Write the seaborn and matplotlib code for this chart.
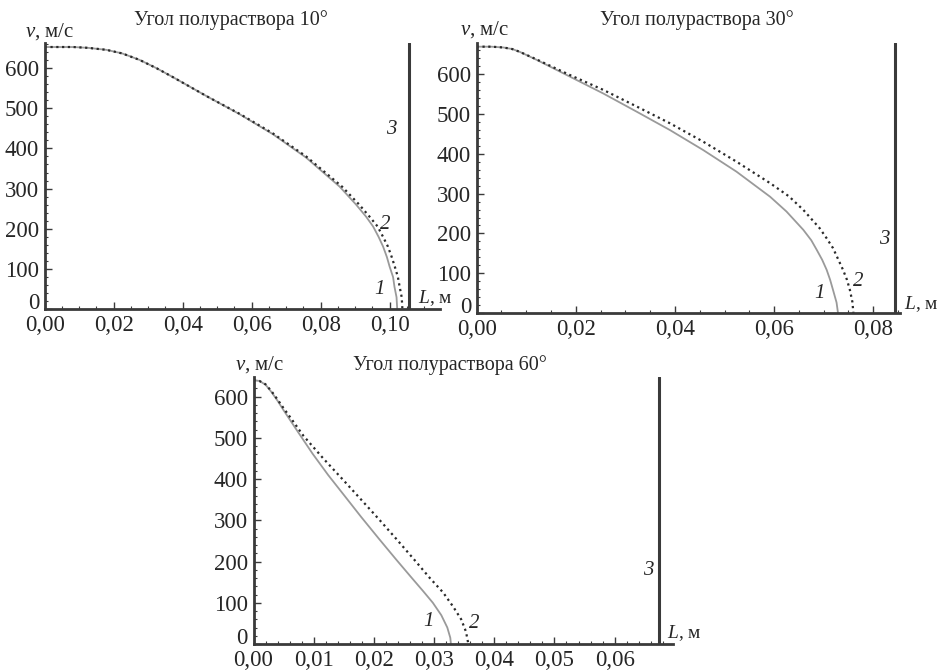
import numpy as np
import pandas as pd
import matplotlib.pyplot as plt
import seaborn as sns
from matplotlib.ticker import MultipleLocator, FuncFormatter

# panel 1: half-angle 10 deg
L1_a = [0, 0.0082, 0.0125, 0.0179, 0.0225, 0.0275, 0.0325, 0.0372, 0.0469, 0.0565, 0.0662, 0.0758, 0.0855,
        0.0903, 0.0932, 0.0952, 0.0968, 0.0981, 0.0992, 0.1000, 0.1010, 0.1014, 0.1020, 0.1022]
v1_a = [652, 652, 650, 645, 636, 620, 599, 577, 530, 485, 435, 377, 305,
        260, 230, 206, 180, 156, 130, 106, 80, 56, 30, 0]
L1_b = [0, 0.0082, 0.0125, 0.0179, 0.0225, 0.0275, 0.0325, 0.0372, 0.0469, 0.0565, 0.0662, 0.0758, 0.0862,
        0.0912, 0.0942, 0.0965, 0.0981, 0.0995, 0.1006, 0.1015, 0.1024, 0.1029, 0.1035, 0.1037]
v1_b = [652, 652, 650, 645, 636, 620, 599, 577, 530, 486, 437, 380, 305,
        260, 230, 206, 180, 156, 130, 106, 80, 56, 30, 0]
L1_wall = 0.1055

# panel 2: half-angle 30 deg
L2_a = [0, 0.0030, 0.0054, 0.0072, 0.0087, 0.0121, 0.0188, 0.0255, 0.0323, 0.0390, 0.0457, 0.0524, 0.0592,
        0.0625, 0.0659, 0.0675, 0.0686, 0.0697, 0.0706, 0.0713, 0.0719, 0.0726, 0.0729]
v2_a = [668, 668, 666, 662, 655, 635, 593, 551, 505, 459, 409, 355, 292,
        255, 209, 183, 159, 134, 109, 84, 58, 27, 0]
L2_b = [0, 0.0030, 0.0054, 0.0072, 0.0087, 0.0121, 0.0188, 0.0255, 0.0323, 0.0390, 0.0457, 0.0524, 0.0592,
        0.0630, 0.0659, 0.0692, 0.0706, 0.0719, 0.0739, 0.0747, 0.0753, 0.0758, 0.0760]
v2_b = [668, 668, 666, 662, 655, 636, 597, 560, 518, 476, 430, 380, 326,
        293, 259, 213, 188, 163, 109, 84, 58, 28, 0]
L2_wall = 0.0844

# panel 3: half-angle 60 deg
L3_a = [0, 0.001, 0.002, 0.003, 0.004, 0.005, 0.006, 0.0075, 0.0098, 0.0124, 0.0151, 0.0179, 0.0208, 0.0237,
        0.0262, 0.0282, 0.0298, 0.0312, 0.0322, 0.0327, 0.0328]
v3_a = [640, 638, 629, 611, 590, 567, 545, 512, 462, 410, 360, 308, 256, 205,
        162, 128, 100, 70, 40, 15, 0]
L3_b = [0, 0.001, 0.002, 0.003, 0.004, 0.005, 0.006, 0.0083, 0.0116, 0.0149, 0.0179, 0.0210, 0.0239, 0.0268,
        0.0293, 0.0315, 0.0332, 0.0345, 0.0353, 0.0357]
v3_b = [640, 638, 630, 613, 593, 572, 552, 505, 450, 398, 350, 300, 252, 203,
        160, 125, 90, 60, 30, 0]
L3_wall = 0.0673

titles = ['Угол полураствора 10°', 'Угол полураствора 30°', 'Угол полураствора 60°']

sns.set_style('ticks')
plt.rcParams['font.family'] = ['Liberation Serif', 'DejaVu Serif']
plt.rcParams['mathtext.fontset'] = 'custom'
plt.rcParams['mathtext.rm'] = 'Liberation Serif'
plt.rcParams['mathtext.it'] = 'Liberation Serif:italic'

W, H = 940, 671
fig = plt.figure(figsize=(9.4, 6.71), dpi=100)


def box(left, top, right, bottom):
    return [left / W, 1 - bottom / H, (right - left) / W, (bottom - top) / H]


def comma(x, pos):
    return f'{x:.2f}'.replace('.', ',')


def vfmt(y, pos):
    # the zero is drawn separately, a bit higher
    return '' if abs(y) < 1e-9 else f'{y:.0f}'


axis_col = '#3a3a3a'

panels = [
    dict(rect=box(44.7, 43, 440, 309.3), xmax=0.1146, ymax=662, major=0.02, minor=0.005,
         a=(L1_a, v1_a), b=(L1_b, v1_b), wall=L1_wall,
         lab1=(0.0971, 48), lab2=(0.0986, 210), lab3=(0.1005, 446), lab_L=(0.1082, 27),
         title=(231, 20), vlab=(50, 32)),
    dict(rect=box(476.7, 42.7, 900, 313.3), xmax=0.0854, ymax=678, major=0.02, minor=0.005,
         a=(L2_a, v2_a), b=(L2_b, v2_b), wall=L2_wall,
         lab1=(0.0692, 50), lab2=(0.0770, 79), lab3=(0.0822, 184), lab_L=(0.0862, 23),
         title=(697, 20), vlab=(485, 30)),
    dict(rect=box(253.5, 377.3, 673, 644), xmax=0.0697, ymax=647, major=0.01, minor=0.002,
         a=(L3_a, v3_a), b=(L3_b, v3_b), wall=L3_wall,
         lab1=(0.0290, 54), lab2=(0.0367, 50), lab3=(0.0656, 179), lab_L=(0.0687, 26),
         title=(450, 365), vlab=(260, 365)),
]

for i, p in enumerate(panels):
    ax = fig.add_axes(p['rect'])
    da = pd.DataFrame({'L': p['a'][0], 'v': p['a'][1]})
    db = pd.DataFrame({'L': p['b'][0], 'v': p['b'][1]})
    sns.lineplot(data=da, x='L', y='v', ax=ax, color='#9a9a9a', lw=1.3,
                 estimator=None, sort=False)
    sns.lineplot(data=db, x='L', y='v', ax=ax, color='#2a2a2a', lw=1.6,
                 ls=(0, (1, 1.6)), estimator=None, sort=False)
    ax.axvline(p['wall'], color=axis_col, lw=2.2)

    ax.set_xlim(0, p['xmax'])
    ax.set_ylim(0, p['ymax'])
    ax.set_xlabel('')
    ax.set_ylabel('')
    sns.despine(ax=ax)
    for s in ['left', 'bottom']:
        ax.spines[s].set_color(axis_col)
        ax.spines[s].set_linewidth(2)

    ax.xaxis.set_major_locator(MultipleLocator(p['major']))
    ax.xaxis.set_minor_locator(MultipleLocator(p['minor']))
    ax.yaxis.set_major_locator(MultipleLocator(100))
    ax.yaxis.set_minor_locator(MultipleLocator(20))
    ax.xaxis.set_major_formatter(FuncFormatter(comma))
    ax.yaxis.set_major_formatter(FuncFormatter(vfmt))
    ax.tick_params(which='major', direction='in', length=5, width=1, color=axis_col,
                   labelsize=16.5, pad=4)
    ax.tick_params(which='minor', direction='in', length=2.5, width=0.8, color=axis_col)
    ax.annotate('0', xy=(0, 0), xycoords=('axes fraction', 'data'), xytext=(-4, 4),
                textcoords='offset points', ha='right', va='center', fontsize=16.5)

    kw = dict(fontsize=15, fontstyle='italic', ha='center', va='center')
    ax.text(*p['lab1'], '1', **kw)
    ax.text(*p['lab2'], '2', **kw)
    ax.text(*p['lab3'], '3', **kw)
    ax.text(p['lab_L'][0], p['lab_L'][1], r'$L$, м', fontsize=14, ha='left', va='center')

    fig.text(p['title'][0] / W, 1 - p['title'][1] / H, titles[i], fontsize=14.5,
             ha='center', va='center')
    fig.text(p['vlab'][0] / W, 1 - p['vlab'][1] / H, r'$v$, м/с', fontsize=15,
             ha='center', va='center')

fig.savefig('out.png', dpi=100, facecolor='white')
